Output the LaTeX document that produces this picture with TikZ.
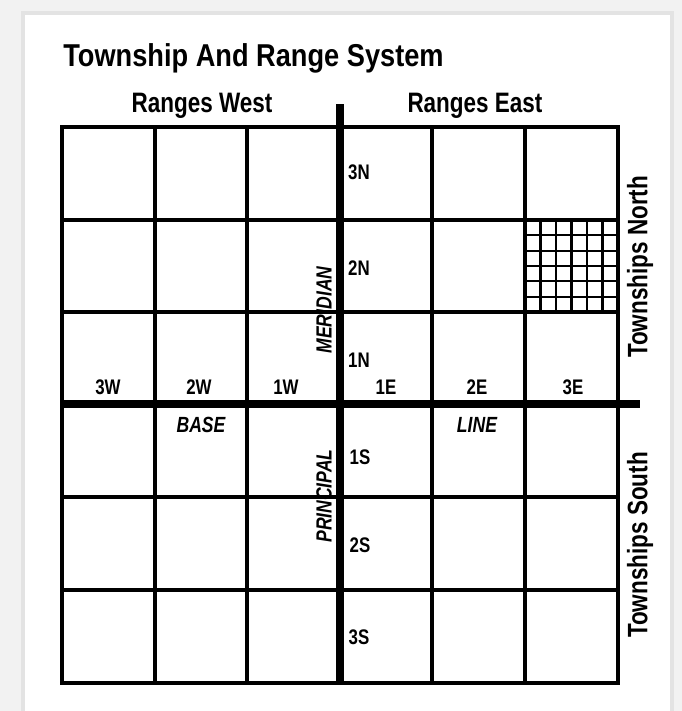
\documentclass[tikz,border=0pt]{standalone}
\usepackage{fontspec}
\setmainfont{Liberation Sans}
\newfontfamily\narrowfont[FakeStretch=0.8]{Liberation Sans}
\newfontfamily\titlefont[FakeStretch=0.86]{Liberation Sans}

\begin{document}
\begin{tikzpicture}[x=0.02cm, y=-0.02cm,
	every node/.style={inner sep=0pt, font=\narrowfont\bfseries},
	frame/.style={line width=2.8pt},
	thin grid/.style={line width=2pt},
	fine grid/.style={line width=1.3pt},
	main line/.style={line width=4.8pt},
	title/.style={font=\titlefont\bfseries\fontsize{18}{21}\selectfont},
	head/.style={font=\narrowfont\bfseries\fontsize{16}{19}\selectfont},
	cell/.style={font=\narrowfont\bfseries\fontsize{12}{14}\selectfont},
	tag/.style={font=\narrowfont\bfseries\itshape\fontsize{12.5}{14}\selectfont}]
	\useasboundingbox (0,0) rectangle (682,711);
	% card and shadow
	\fill[gray!10] (0,0) rectangle (682,711);
	\fill[gray!22] (21,11) rectangle (674,711);
	\fill[white] (25,15) rectangle (670,711);
	% townships
	\foreach \x in {155,247,432,525}
		\draw[thin grid] (\x,127) -- (\x,683);
	\foreach \y in {220,312,497,590}
		\draw[thin grid] (62,\y) -- (618,\y);
	\draw[frame] (62,127) rectangle (618,683);
	% sections of one township
	\foreach \i in {1,...,5} {
		\draw[fine grid] (525+\i*15.5,220) -- (525+\i*15.5,312);
		\draw[fine grid] (525,220+\i*15.33) -- (618,220+\i*15.33);
	}
	% meridian and base line
	\draw[main line] (340,104) -- (340,683);
	\draw[main line] (62,404) -- (640,404);
	% headings
	\node[title, anchor=base west] (ttl) at (63,66) {Township And Range System};
	\node[head, anchor=base] (west) at (202,112) {Ranges West};
	\node[head, anchor=base] (east) at (475,112) {Ranges East};
	\node[head, rotate=90] (north) at (640,267) {Townships North};
	\node[head, rotate=90] (south) at (640,545) {Townships South};
	% ranges
	\node[cell] (w3) at (108,387) {3W};
	\node[cell] (w2) at (199,387) {2W};
	\node[cell] (w1) at (286,387) {1W};
	\node[cell] (e1) at (386,387) {1E};
	\node[cell] (e2) at (477,387) {2E};
	\node[cell] (e3) at (573,387) {3E};
	% townships
	\node[cell] (n3) at (359,172) {3N};
	\node[cell] (n2) at (359,268) {2N};
	\node[cell] (n1) at (359,360) {1N};
	\node[cell] (s1) at (360,457) {1S};
	\node[cell] (s2) at (360,545) {2S};
	\node[cell] (s3) at (359,637) {3S};
	% line names
	\node[tag, rotate=90] (mer) at (324,310) {MERIDIAN};
	\node[tag, rotate=90] (pri) at (324,496) {PRINCIPAL};
	\node[tag] (base) at (201,425) {BASE};
	\node[tag] (line) at (477,425) {LINE};
\end{tikzpicture}
\end{document}
